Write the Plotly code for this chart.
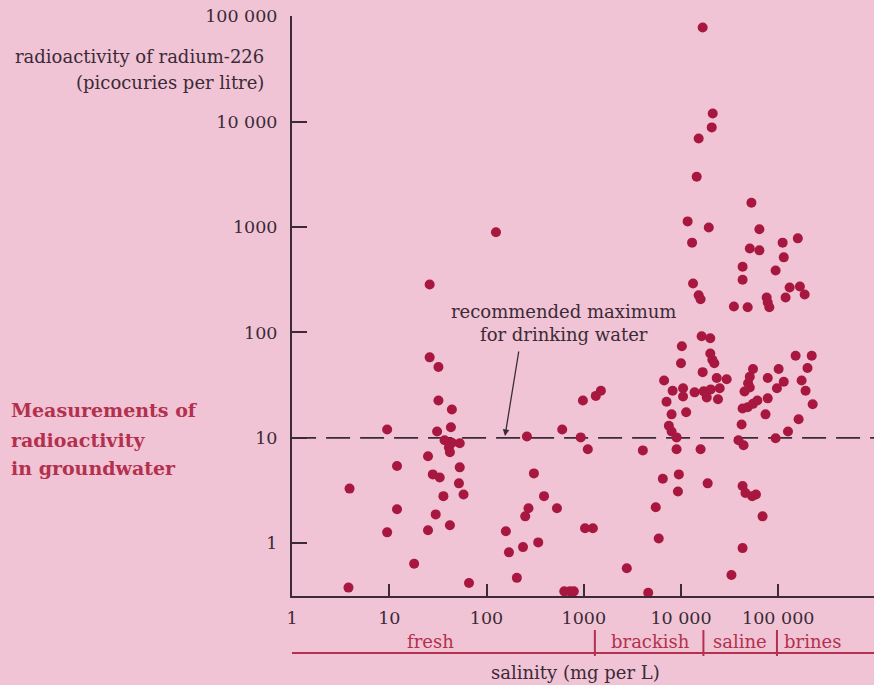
import plotly.graph_objects as go

# ---- data ----
salinity_mg_per_l = [
    3.9, 3.8, 9.5, 12, 12, 9.5, 18, 26, 32, 32, 44, 43, 31, 37, 44, 41, 42, 53, 25, 53,
    28, 33, 52, 58, 36, 30, 42, 25, 66, 26, 125,
    260, 600, 930, 1100, 307, 390, 270, 250, 530, 158, 1030, 1240, 170, 237, 340, 205,
    630, 720, 790, 980, 1330, 1500,
    2770, 4050, 4600, 5500, 5900, 6500, 9500, 9300, 9000, 15900, 18800,
    8000, 11300, 7500, 8000, 9000,
    16300, 20000, 10200, 20000, 21000, 22000, 10000, 16700, 6700, 23300, 29500,
    8200, 10500, 13800, 17100, 20200, 25000, 7100, 10500, 18400, 24000,
    11700, 19300, 13000, 13300, 15200, 15900, 16700, 21200, 20700, 15200, 14500,
    42000, 39000, 44000, 74000, 94000, 43000, 46000, 54000, 59000, 69000, 43000, 33000,
    55000, 51000, 49000, 101000, 78000, 97000, 45000, 51000, 43000, 48500, 55000, 61000, 78000,
    53000, 64000, 51000, 64000, 43000, 43000, 94000, 76000, 78000, 81000, 35000, 48500,
    126000, 162000, 226000, 151000, 221000, 200000, 114000, 174000, 191000,
    111000, 159000, 114000, 131000, 167000, 187000, 119000,
]
radium_pci_per_l = [
    3.3, 0.38, 12, 5.4, 2.1, 1.27, 0.64, 58, 47, 22.6, 18.6, 12.6, 11.5, 9.5, 9.0, 8.1, 7.3, 8.9, 6.7, 5.25,
    4.5, 4.2, 3.7, 2.9, 2.8, 1.88, 1.48, 1.33, 0.42, 285, 890,
    10.3, 12, 10.1, 7.8, 4.6, 2.8, 2.15, 1.8, 2.15, 1.3, 1.39, 1.39, 0.82, 0.92, 1.02, 0.47,
    0.35, 0.35, 0.35, 22.6, 25, 28,
    0.58, 7.6, 0.34, 2.2, 1.11, 4.1, 4.5, 3.1, 7.8, 7.8, 3.7,
    16.7, 17.5, 13, 11.5, 10.1,
    92, 88, 74, 63, 55, 51, 51, 42, 35, 37, 36,
    28, 29.5, 27, 27.6, 28.8, 29.5, 22, 24.7, 24.2, 23.2,
    1130, 990, 710, 291, 225, 206, 78000, 11900, 8800, 6900, 3000,
    13.4, 9.5, 8.5, 16.7, 9.9, 3.5, 3.0, 2.8, 2.9, 1.8, 0.9, 0.5,
    45, 38, 33, 45, 37, 29.5, 27.5, 30, 19, 19.5, 21, 22.6, 23.7,
    1700, 950, 625, 600, 420, 316, 387, 214, 192, 173, 176, 173,
    11.5, 15, 20.8, 60, 60, 46, 34, 35, 28,
    710, 780, 515, 267, 273, 229, 214,
]
x_tick_vals = [1, 10, 100, 1000, 10000, 100000]
x_tick_text = ["1", "10", "100", "1000", "10 000", "100 000"]
y_tick_vals = [1, 10, 100, 1000, 10000, 100000]
y_tick_text = ["1", "10", "100", "1000", "10 000", "100 000"]
drinking_limit = 10
class_names = ["fresh", "brackish", "saline", "brines"]
class_bounds = [1300, 17000, 97000]

# ---- style ----
BG = "#f0c4d4"
DOT = "#a8173f"
INK = "#3b2a38"
RED = "#b3304e"
FONT = "DejaVu Serif"

fig = go.Figure()
fig.add_trace(go.Scatter(
    x=[1, 1e6], y=[drinking_limit, drinking_limit], mode="lines",
    line=dict(color=INK, width=1.6, dash="24px,10px"), hoverinfo="skip", showlegend=False,
))
fig.add_trace(go.Scatter(
    x=salinity_mg_per_l, y=radium_pci_per_l, mode="markers",
    marker=dict(color=DOT, size=10, line=dict(width=0)),
    cliponaxis=False, showlegend=False,
))

axis_common = dict(
    type="log", showgrid=False, zeroline=False, showline=True, linecolor=INK, linewidth=2,
    ticks="inside", tickcolor=INK, tickwidth=2,
    tickfont=dict(family=FONT, size=17.5, color=INK),
)
fig.update_xaxes(range=[-0.001, 5.985], tickvals=x_tick_vals, ticktext=x_tick_text,
                 ticklen=12, ticklabelstandoff=5, **axis_common)
fig.update_yaxes(range=[-0.5, 5.001], tickvals=y_tick_vals, ticktext=y_tick_text,
                 ticklen=15, ticklabelstandoff=9, **axis_common)

W, H = 874, 685
L, T, B = 292, 16, 89
pw, ph = W - L, H - T - B

def px(xp):
    return (xp - L) / pw

def py(yp):
    return (H - B - yp) / ph

annotations = []
annotations.append(dict(xref="paper", yref="paper", x=px(266), y=py(57), xanchor="right", yanchor="middle",
                        text="radioactivity of radium-226", showarrow=False,
                        font=dict(family=FONT, size=18, color=INK)))
annotations.append(dict(xref="paper", yref="paper", x=px(266), y=py(82), xanchor="right", yanchor="middle",
                        text="(picocuries per litre)", showarrow=False,
                        font=dict(family=FONT, size=18, color=INK)))
for txt, yy in [("Measurements of", 410), ("radioactivity", 440), ("in groundwater", 468)]:
    annotations.append(dict(xref="paper", yref="paper", x=px(9), y=py(yy), xanchor="left", yanchor="middle",
                            text="<b>%s</b>" % txt, showarrow=False,
                            font=dict(family=FONT, size=19, color=RED)))
annotations.append(dict(xref="paper", yref="paper", x=px(563), y=py(323), xanchor="center", yanchor="middle",
                        text="recommended maximum<br>for drinking water", showarrow=False, align="center",
                        font=dict(family=FONT, size=18, color=INK)))
annotations.append(dict(xref="paper", yref="paper", x=px(505), y=py(436), text="", showarrow=True,
                        axref="pixel", ayref="pixel", ax=14, ay=-86,
                        arrowhead=2, arrowsize=1, arrowwidth=1.3, arrowcolor=INK))
for name, xx in zip(class_names, [430, 650, 740, 812]):
    annotations.append(dict(xref="paper", yref="paper", x=px(xx), y=py(641), xanchor="center", yanchor="middle",
                            text=name, showarrow=False, font=dict(family=FONT, size=18, color=RED)))
annotations.append(dict(xref="paper", yref="paper", x=px(575), y=py(672), xanchor="center", yanchor="middle",
                        text="salinity (mg per L)", showarrow=False, font=dict(family=FONT, size=18, color=INK)))

shapes = [dict(type="line", xref="paper", yref="paper", x0=0, x1=1, y0=py(653), y1=py(653),
               line=dict(color=RED, width=2))]
for b in class_bounds:
    shapes.append(dict(type="line", xref="x", yref="paper", x0=b, x1=b, y0=py(630), y1=py(656),
                       line=dict(color=RED, width=2)))

fig.update_layout(
    width=W, height=H, margin=dict(l=L, r=0, t=T, b=B),
    paper_bgcolor=BG, plot_bgcolor=BG,
    annotations=annotations, shapes=shapes, showlegend=False,
)
fig.write_html(
    "out.html",
    config={"displayModeBar": False},
    post_script="document.body.style.margin='0';document.body.style.background='%s';" % BG,
)
